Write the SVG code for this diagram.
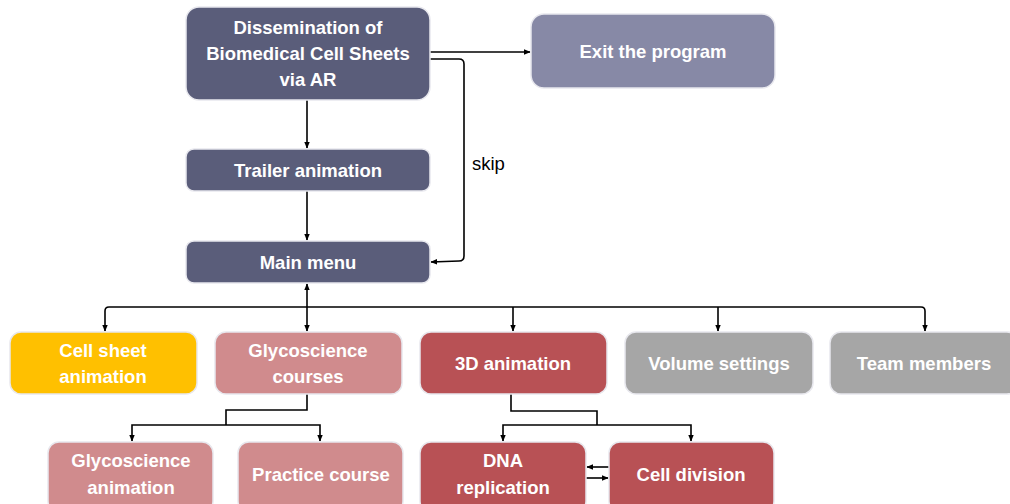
<svg xmlns="http://www.w3.org/2000/svg" width="1010" height="504" viewBox="0 0 1010 504">
<defs>
<marker id="ah" viewBox="0 0 10 10" refX="9" refY="5" markerWidth="7" markerHeight="7" orient="auto-start-reverse" markerUnits="userSpaceOnUse">
<path d="M0,1 L10,5 L0,9 Z" fill="#000"/>
</marker>
<style>
.n{stroke:#e8e8ee;stroke-width:1.5}
.t{font-family:"Liberation Sans",Arial,sans-serif;font-weight:bold;font-size:18.5px;fill:#fff;text-anchor:middle}
.c{fill:none;stroke:#000;stroke-width:1.6}
.dk{fill:#5a5d7a}.ex{fill:#8789a6}.ye{fill:#ffc000}.pk{fill:#d08b8d}.rd{fill:#b85155}.gr{fill:#a6a6a6}
</style>
</defs>
<rect width="1010" height="504" fill="#fff"/>
<g id="connectors">
<line class="c" x1="307" y1="100" x2="307" y2="148" marker-end="url(#ah)"/>
<line class="c" x1="307" y1="191" x2="307" y2="240" marker-end="url(#ah)"/>
<line class="c" x1="430" y1="52" x2="530" y2="52" marker-end="url(#ah)"/>
<path class="c" d="M430,59 L459,59 Q464,59 464,64 L464,256 Q464,261 459,261 L431,262" marker-end="url(#ah)"/>
<line class="c" x1="307" y1="284" x2="307" y2="331" marker-start="url(#ah)" marker-end="url(#ah)"/>
<path class="c" d="M105,331 L105,311 Q105,307 109,307 L921,307 Q925,307 925,311 L925,331" marker-end="url(#ah)" marker-start="url(#ah)"/>
<line class="c" x1="513" y1="307" x2="513" y2="331" marker-end="url(#ah)"/>
<line class="c" x1="718" y1="307" x2="718" y2="331" marker-end="url(#ah)"/>
<path class="c" d="M307,394 L307,410 L226,410 L226,425"/>
<path class="c" d="M132,441 L132,425 L320,425 L320,441" marker-start="url(#ah)" marker-end="url(#ah)"/>
<path class="c" d="M511,394 L511,411 L597,411 L597,425"/>
<path class="c" d="M503,441 L503,425 L691,425 L691,441" marker-start="url(#ah)" marker-end="url(#ah)"/>
<line class="c" x1="609" y1="467" x2="587" y2="467" marker-end="url(#ah)"/>
<line class="c" x1="586" y1="478" x2="608" y2="478" marker-end="url(#ah)"/>
<text x="472" y="170" font-family="'Liberation Sans',Arial,sans-serif" font-size="18.5" fill="#000">skip</text>
</g>
<g id="dissemination"><rect class="n dk" x="186" y="7" width="244" height="93" rx="13"/>
<text class="t" x="308" y="34">Dissemination of</text>
<text class="t" x="308" y="60">Biomedical Cell Sheets</text>
<text class="t" x="308" y="86">via AR</text></g>
<g id="exit"><rect class="n ex" x="531" y="14" width="244" height="74" rx="13"/>
<text class="t" x="653" y="58">Exit the program</text></g>
<g id="trailer"><rect class="n dk" x="186" y="149" width="244" height="42" rx="8"/>
<text class="t" x="308" y="177">Trailer animation</text></g>
<g id="mainmenu"><rect class="n dk" x="186" y="241" width="244" height="42" rx="8"/>
<text class="t" x="308" y="269">Main menu</text></g>
<g id="cellsheet"><rect class="n ye" x="10" y="332" width="187" height="62" rx="11"/>
<text class="t" x="103" y="357">Cell sheet</text>
<text class="t" x="103" y="383">animation</text></g>
<g id="glycocourses"><rect class="n pk" x="215" y="332" width="187" height="62" rx="11"/>
<text class="t" x="308" y="357">Glycoscience</text>
<text class="t" x="308" y="383">courses</text></g>
<g id="anim3d"><rect class="n rd" x="420" y="332" width="187" height="62" rx="11"/>
<text class="t" x="513" y="370">3D animation</text></g>
<g id="volume"><rect class="n gr" x="625" y="332" width="188" height="62" rx="11"/>
<text class="t" x="719" y="370">Volume settings</text></g>
<g id="team"><rect class="n gr" x="830" y="332" width="188" height="62" rx="11"/>
<text class="t" x="924" y="370">Team members</text></g>
<g id="glycoanim"><rect class="n pk" x="48" y="442" width="165" height="70" rx="11"/>
<text class="t" x="131" y="467">Glycoscience</text>
<text class="t" x="131" y="494">animation</text></g>
<g id="practice"><rect class="n pk" x="238" y="442" width="165" height="70" rx="11"/>
<text class="t" x="321" y="481">Practice course</text></g>
<g id="dna"><rect class="n rd" x="420" y="442" width="166" height="70" rx="11"/>
<text class="t" x="503" y="467">DNA</text>
<text class="t" x="503" y="494">replication</text></g>
<g id="celldiv"><rect class="n rd" x="609" y="442" width="165" height="70" rx="11"/>
<text class="t" x="691" y="481">Cell division</text></g>
</svg>
